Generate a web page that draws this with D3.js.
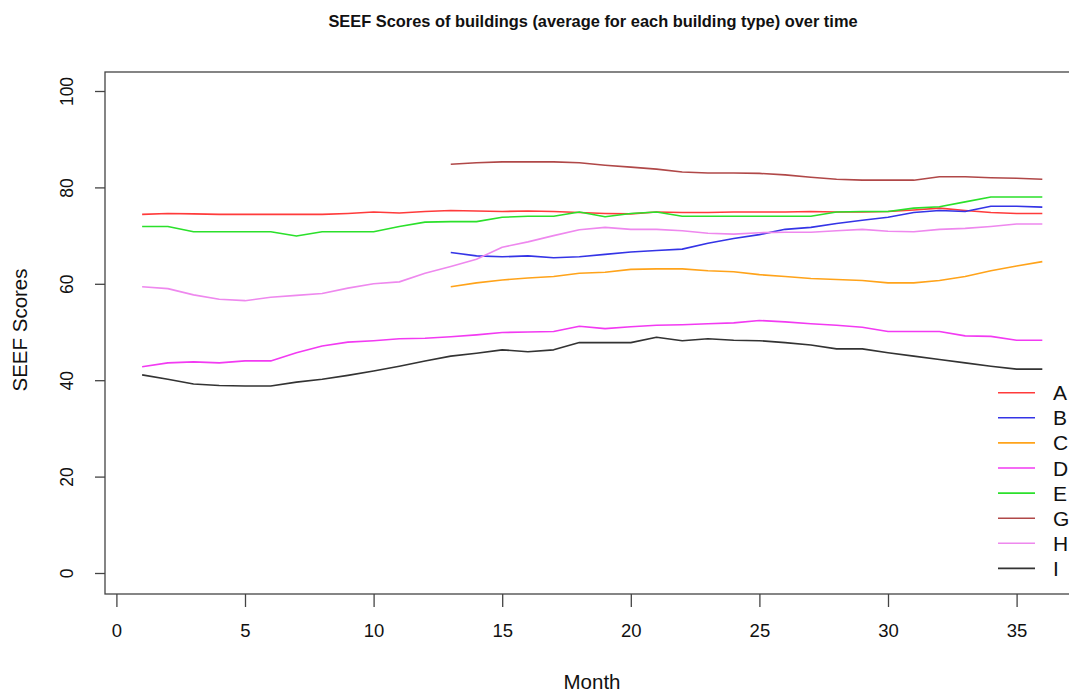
<!DOCTYPE html>
<html>
<head>
<meta charset="utf-8">
<script src="https://cdn.jsdelivr.net/npm/d3@7"></script>
<style>
  html, body { margin: 0; padding: 0; background: #fff; }
  svg { display: block; font-family: "Liberation Sans", Arial, sans-serif; }
</style>
</head>
<body>
<svg id="chart" width="1069" height="692"></svg>
<script>
// Average SEEF score per building type, by month
const months = d3.range(1, 37);
const monthsLate = d3.range(13, 37);

const seriesA = [74.4, 74.6, 74.5, 74.4, 74.4, 74.4, 74.4, 74.4, 74.6, 74.9, 74.7, 75.0,
                 75.2, 75.1, 75.0, 75.1, 75.0, 74.8, 74.6, 74.5, 74.9, 74.8, 74.8, 74.9,
                 74.9, 74.9, 75.0, 74.9, 74.9, 75.0, 75.3, 75.7, 75.2, 74.8, 74.6, 74.6];
const seriesB = [66.5, 65.8, 65.6, 65.8, 65.4, 65.6, 66.1, 66.6, 66.9, 67.2, 68.4, 69.4,
                 70.2, 71.3, 71.7, 72.5, 73.2, 73.8, 74.8, 75.2, 75.0, 76.1, 76.1, 75.9];
const seriesC = [59.4, 60.2, 60.8, 61.2, 61.5, 62.2, 62.4, 63.0, 63.1, 63.1, 62.7, 62.5,
                 61.9, 61.5, 61.1, 60.9, 60.7, 60.2, 60.2, 60.7, 61.5, 62.7, 63.7, 64.6];
const seriesD = [42.8, 43.6, 43.8, 43.6, 44.0, 44.0, 45.7, 47.1, 47.9, 48.2, 48.6, 48.7,
                 49.0, 49.4, 49.9, 50.0, 50.1, 51.2, 50.7, 51.1, 51.4, 51.5, 51.7, 51.9,
                 52.4, 52.1, 51.7, 51.4, 51.0, 50.1, 50.1, 50.1, 49.2, 49.1, 48.3, 48.3];
const seriesE = [71.9, 71.9, 70.8, 70.8, 70.8, 70.8, 69.9, 70.8, 70.8, 70.8, 71.9, 72.8,
                 72.9, 72.9, 73.8, 74.0, 74.0, 74.9, 73.9, 74.6, 74.9, 74.0, 74.0, 74.0,
                 74.0, 74.0, 74.0, 74.9, 75.0, 75.0, 75.7, 76.0, 77.0, 78.0, 78.0, 78.0];
const seriesG = [84.8, 85.1, 85.3, 85.3, 85.3, 85.1, 84.6, 84.2, 83.8, 83.2, 83.0, 83.0,
                 82.9, 82.6, 82.1, 81.7, 81.5, 81.5, 81.5, 82.2, 82.2, 82.0, 81.9, 81.7];
const seriesH = [59.4, 59.0, 57.7, 56.8, 56.5, 57.2, 57.6, 58.0, 59.1, 60.0, 60.4, 62.2,
                 63.6, 65.1, 67.6, 68.7, 70.0, 71.2, 71.7, 71.3, 71.3, 71.0, 70.5, 70.3,
                 70.6, 70.7, 70.7, 71.0, 71.3, 70.9, 70.8, 71.3, 71.5, 71.9, 72.4, 72.4];
const seriesI = [41.1, 40.2, 39.2, 38.9, 38.8, 38.8, 39.6, 40.2, 41.0, 41.9, 42.9, 44.0,
                 45.0, 45.6, 46.3, 45.9, 46.3, 47.8, 47.8, 47.8, 48.9, 48.2, 48.6, 48.3,
                 48.2, 47.8, 47.3, 46.5, 46.5, 45.7, 45.0, 44.3, 43.6, 42.9, 42.3, 42.3];

const typeNames = ["A", "B", "C", "D", "E", "G", "H", "I"];
const typeColors = ["#ff3b3b", "#3434e6", "#ffa31a", "#f23af2", "#2be02b", "#b04848", "#ee88ee", "#333333"];
const xTicks = [0, 5, 10, 15, 20, 25, 30, 35];
const yTicks = [0, 20, 40, 60, 80, 100];

const seriesList = [
  { name: "A", x: months, y: seriesA },
  { name: "B", x: monthsLate, y: seriesB },
  { name: "C", x: monthsLate, y: seriesC },
  { name: "D", x: months, y: seriesD },
  { name: "E", x: months, y: seriesE },
  { name: "G", x: monthsLate, y: seriesG },
  { name: "H", x: months, y: seriesH },
  { name: "I", x: months, y: seriesI }
];

const svg = d3.select("#chart");
const x = d3.scaleLinear().domain([0, 35]).range([116.4, 1016.6]);
const y = d3.scaleLinear().domain([0, 100]).range([573, 91]);
const color = d3.scaleOrdinal().domain(typeNames).range(typeColors);

const frame = { left: 105, top: 72, bottom: 594, right: 1090 };

// Title
svg.append("text")
  .attr("x", 593).attr("y", 27)
  .attr("text-anchor", "middle")
  .attr("font-weight", "bold")
  .attr("font-size", 16.4)
  .attr("fill", "#111")
  .text("SEEF Scores of buildings (average for each building type) over time");

// Series lines
const line = d3.line().x(d => x(d[0])).y(d => y(d[1]));
svg.append("g").selectAll("path")
  .data(seriesList)
  .join("path")
  .attr("d", s => line(s.x.map((m, i) => [m, s.y[i]])))
  .attr("fill", "none")
  .attr("stroke", s => color(s.name))
  .attr("stroke-width", 1.6)
  .attr("stroke-linejoin", "round");

// Plot frame
svg.append("rect")
  .attr("x", frame.left).attr("y", frame.top)
  .attr("width", frame.right - frame.left).attr("height", frame.bottom - frame.top)
  .attr("fill", "none").attr("stroke", "#444").attr("stroke-width", 1.3);

// X axis
const xAxis = svg.append("g")
  .attr("transform", `translate(0,${frame.bottom})`)
  .call(d3.axisBottom(x).tickValues(xTicks).tickSize(13).tickPadding(17).tickFormat(d3.format("d")));
xAxis.select(".domain").remove();
xAxis.selectAll("line").attr("stroke", "#444").attr("stroke-width", 1.3);
xAxis.selectAll("text").attr("font-size", 18.5).attr("fill", "#111")
  .attr("font-family", "'Liberation Sans', Arial, sans-serif");

// Y axis with rotated labels
const yAxis = svg.append("g")
  .attr("transform", `translate(${frame.left},0)`)
  .call(d3.axisLeft(y).tickValues(yTicks).tickSize(10).tickFormat(d3.format("d")));
yAxis.select(".domain").remove();
yAxis.selectAll("line").attr("stroke", "#444").attr("stroke-width", 1.3);
yAxis.selectAll("text")
  .attr("font-size", 17.5).attr("fill", "#111")
  .attr("font-family", "'Liberation Sans', Arial, sans-serif")
  .attr("x", null).attr("dy", null)
  .attr("text-anchor", "middle")
  .attr("transform", "translate(-38,0) rotate(-90)")
  .attr("dominant-baseline", "central");

// Axis titles
svg.append("text")
  .attr("x", 592).attr("y", 689)
  .attr("text-anchor", "middle").attr("font-size", 20.5).attr("fill", "#111")
  .text("Month");
svg.append("text")
  .attr("transform", "translate(27,330) rotate(-90)")
  .attr("text-anchor", "middle").attr("font-size", 20.5).attr("fill", "#111")
  .text("SEEF Scores");

// Legend
const legend = svg.append("g").selectAll("g")
  .data(typeNames)
  .join("g")
  .attr("transform", (d, i) => `translate(998,${392.7 + i * 25.1})`);
legend.append("line")
  .attr("x1", 0).attr("x2", 37).attr("y1", 0).attr("y2", 0)
  .attr("stroke", d => color(d)).attr("stroke-width", 1.6);
legend.append("text")
  .attr("x", 55).attr("y", 0).attr("dy", "0.36em")
  .attr("font-size", 21).attr("fill", "#111")
  .text(d => d);
</script>
</body>
</html>
